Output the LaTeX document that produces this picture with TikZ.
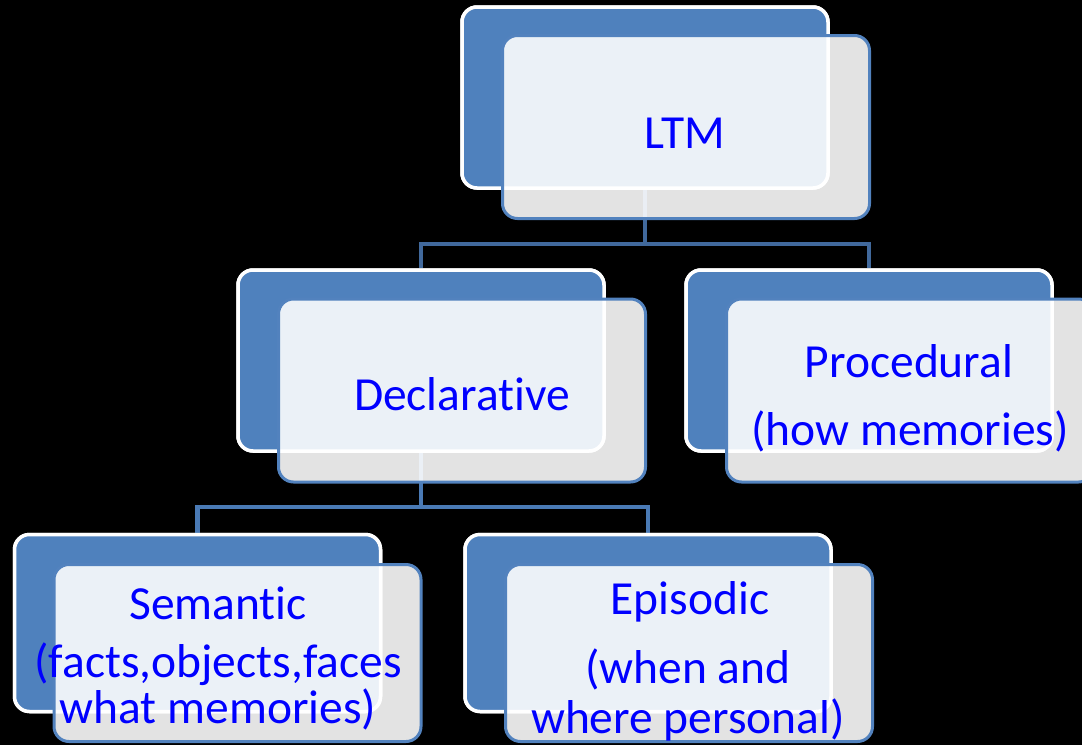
\documentclass[tikz,border=0pt]{standalone}
\usepackage{fontspec}
\setmainfont{Carlito}[Ligatures={NoCommon}]
\definecolor{backblue}{HTML}{4F81BD}
\definecolor{frontline}{HTML}{5282BE}
\definecolor{connA}{HTML}{41699C}
\definecolor{connB}{HTML}{4A7AB5}
\definecolor{txtblue}{HTML}{0000FF}
\begin{document}
\begin{tikzpicture}[x=1pt,y=-1pt,
  backbox/.style={draw=white, line width=3.5pt, fill=backblue, rounded corners=15pt,
    minimum width=366pt, minimum height=181pt, inner sep=0pt},
  frontbox/.style={draw=frontline, line width=3pt, fill=white, fill opacity=0.89, draw opacity=1,
    rounded corners=15pt, minimum width=367pt, minimum height=183pt, inner sep=0pt},
  smallh/.style={minimum height=177pt},
  label/.style={anchor=base, inner sep=0pt, text=txtblue, font=\fontsize{47.5}{56}\selectfont},
  connone/.style={draw=connA, line width=4.5pt},
  conntwo/.style={draw=connB, line width=4.5pt}]
\fill[black] (0,0) rectangle (1082,745);
\useasboundingbox (0,0) rectangle (1082,745);
\clip (0,0) rectangle (1082,745);
% back boxes (named, used by connectors)
\path (645,97.5) node[backbox] (ltmb) {};
\path (421,360.5) node[backbox] (decb) {};
\path (869,360.5) node[backbox] (prob) {};
\path (197.5,623) node[backbox,smallh] (semb) {};
\path (648,623) node[backbox,smallh] (epib) {};
% connectors
\draw[connone] (ltmb.south) -- ++(0,54) coordinate (j1) -| (decb.north);
\draw[connone] (j1) -| (prob.north);
\draw[conntwo] (decb.south) -- ++(0,54) coordinate (j2) -| (semb.north);
\draw[conntwo] (j2) -| (epib.north);
% redraw back boxes above connectors
\path (645,97.5) node[backbox] {};
\path (421,360.5) node[backbox] {};
\path (869,360.5) node[backbox] {};
\path (197.5,623) node[backbox,smallh] {};
\path (648,623) node[backbox,smallh] {};
% front boxes
\path (686,127) node[frontbox] (ltmf) {};
\path (462,390.5) node[frontbox] (decf) {};
\path (910,390.5) node[frontbox] (prof) {};
\path (237.5,653) node[frontbox,smallh] (semf) {};
\path (689,653) node[frontbox,smallh] (epif) {};
% texts
\node[label] (ltmt) at (685,148) {LTM};
\node[label] (dect) at (462,410) {Declarative};
\node[label] (prot1) at (909,377) {Procedural};
\node[label] (prot2) at (910,445) {(how memories)};
\node[label] (semt1) at (218,619) {Semantic};
\node[label] (semt2) at (218,677) {(facts,objects,faces};
\node[label] (semt3) at (218,723) {what memories)};
\node[label] (epit1) at (690,614) {Episodic};
\node[label] (epit2) at (688,683) {(when and};
\node[label] (epit3) at (688,733) {where personal)};
\end{tikzpicture}
\end{document}
